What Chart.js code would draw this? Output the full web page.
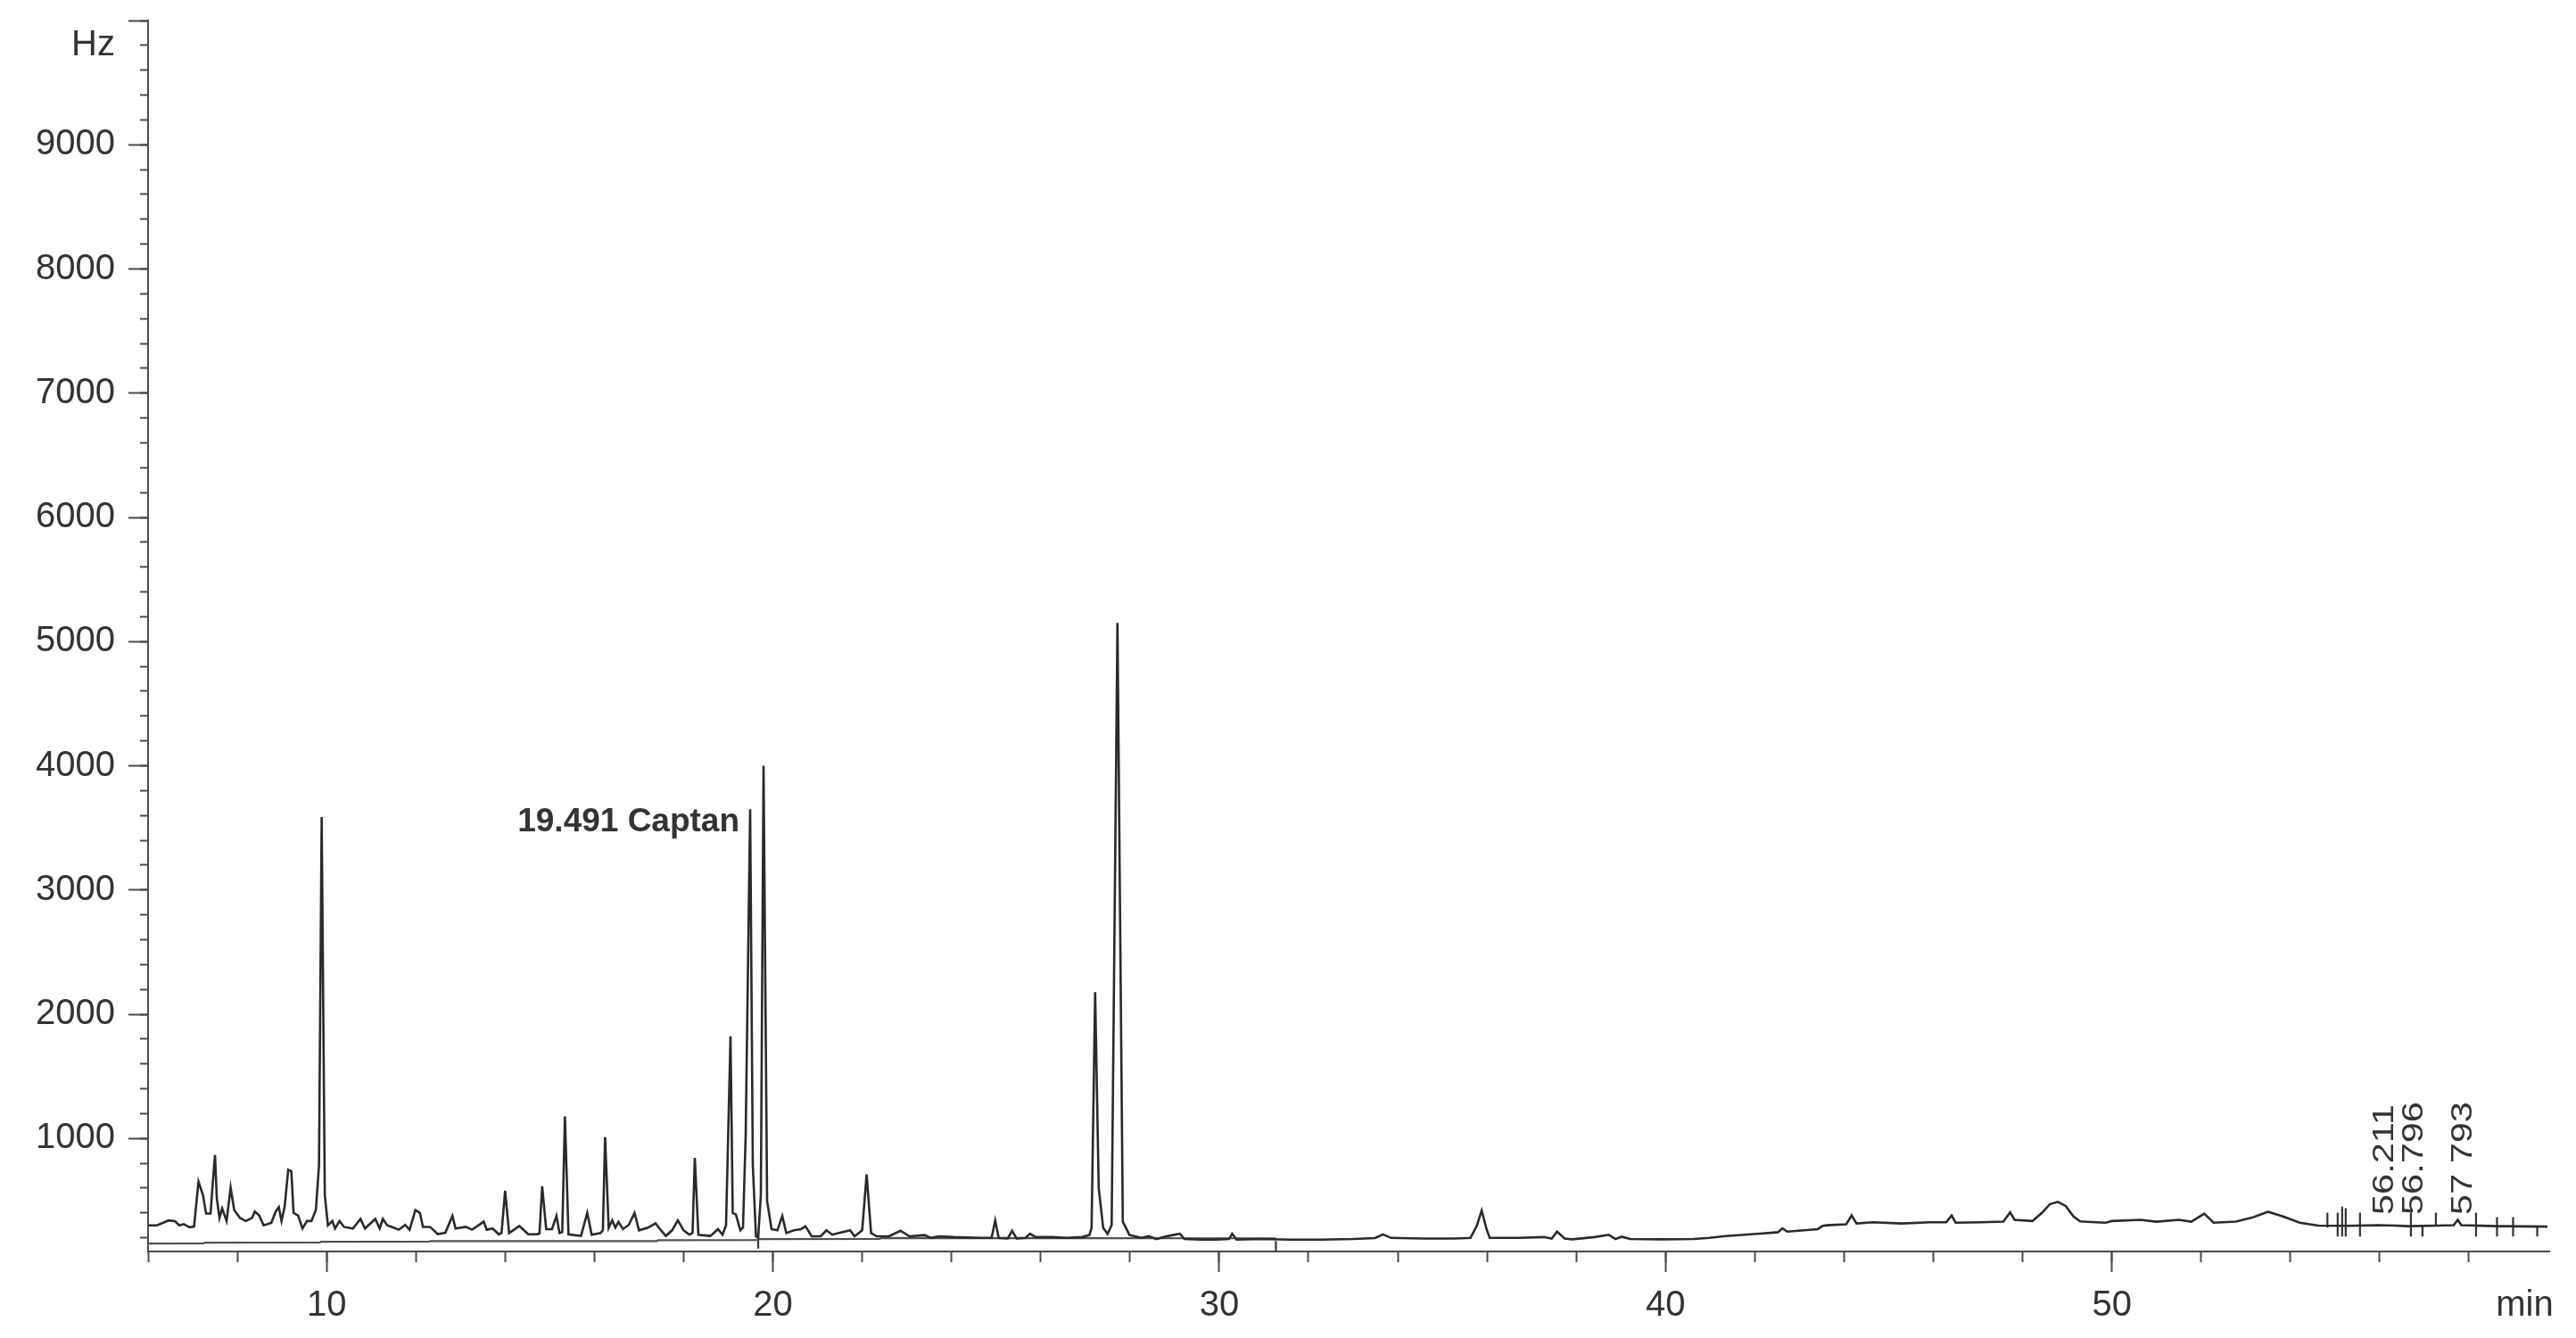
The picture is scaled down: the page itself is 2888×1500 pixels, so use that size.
<!DOCTYPE html>
<html>
<head>
<meta charset="utf-8">
<script src="https://cdn.jsdelivr.net/npm/chart.js"></script>
<style>
  body { margin: 0; background: #fff; }
  canvas { display: block; }
</style>
</head>
<body>
<canvas id="gc" width="2888" height="1500"></canvas>
<script>
'use strict'

// retention time (min) and detector signal (Hz)
const TIMES = [
  6.00, 6.20, 6.46, 6.60, 6.70, 6.80, 6.93, 7.03, 7.13, 7.23, 7.30, 7.40, 7.45, 7.50, 7.54, 7.60, 7.66, 7.76, 7.85, 7.93,
  8.06, 8.19, 8.33, 8.39, 8.49, 8.59, 8.76, 8.86, 8.93, 8.99, 9.06, 9.14, 9.21, 9.26, 9.36, 9.46, 9.56, 9.66, 9.76, 9.83,
  9.89, 9.96, 10.03, 10.13, 10.19, 10.29, 10.39, 10.59, 10.76, 10.86, 11.09, 11.19, 11.26, 11.36, 11.46, 11.62, 11.76, 11.86, 11.99, 12.09,
  12.16, 12.32, 12.49, 12.66, 12.82, 12.89, 13.12, 13.26, 13.52, 13.59, 13.72, 13.86, 13.92, 14.00, 14.09, 14.32, 14.52, 14.72, 14.77, 14.83,
  14.92, 15.05, 15.15, 15.22, 15.28, 15.34, 15.42, 15.70, 15.84, 15.94, 16.14, 16.19, 16.24, 16.32, 16.40, 16.47, 16.54, 16.64, 16.77, 16.90,
  17.00, 17.20, 17.37, 17.47, 17.60, 17.74, 17.87, 18.00, 18.13, 18.20, 18.25, 18.33, 18.60, 18.77, 18.87, 18.95, 19.05, 19.10, 19.17, 19.27,
  19.33, 19.39, 19.49, 19.55, 19.62, 19.67, 19.73, 19.79, 19.87, 19.97, 20.10, 20.21, 20.30, 20.47, 20.63, 20.73, 20.87, 21.07, 21.20, 21.33,
  21.46, 21.73, 21.83, 22.00, 22.10, 22.20, 22.33, 22.60, 22.86, 23.06, 23.40, 23.53, 23.73, 24.06, 24.66, 24.90, 24.98, 25.06, 25.26, 25.36,
  25.46, 25.66, 25.76, 25.89, 26.26, 26.59, 26.93, 27.09, 27.14, 27.22, 27.30, 27.40, 27.50, 27.59, 27.72, 27.84, 27.99, 28.26, 28.42, 28.59,
  28.79, 28.96, 29.12, 29.22, 29.59, 29.92, 30.22, 30.29, 30.39, 30.92, 31.59, 32.25, 33.00, 33.49, 33.67, 33.85, 34.56, 35.27, 35.63, 35.77,
  35.88, 35.99, 36.06, 36.70, 37.27, 37.45, 37.57, 37.74, 37.91, 38.41, 38.73, 38.88, 39.02, 39.20, 39.91, 40.63, 40.98, 41.34, 42.05, 42.52,
  42.62, 42.73, 43.41, 43.52, 43.62, 44.05, 44.17, 44.28, 44.65, 45.29, 45.93, 46.29, 46.41, 46.50, 47.07, 47.57, 47.72, 47.82, 48.22, 48.43,
  48.61, 48.79, 48.97, 49.14, 49.29, 49.64, 49.86, 50.00, 50.64, 51.00, 51.50, 51.78, 52.07, 52.28, 52.78, 53.14, 53.50, 53.85, 54.21, 54.63,
  55.30, 55.96, 56.36, 56.63, 57.30, 57.66, 57.75, 57.83, 58.63, 59.76
]
const SIGNAL = [
  300, 300, 340, 335, 300, 310, 285, 290, 652, 544, 395, 395, 640, 867, 520, 360, 436, 335, 604, 424,
  360, 335, 360, 412, 380, 300, 320, 412, 448, 335, 448, 747, 735, 400, 380, 275, 335, 335, 424, 783,
  3588, 544, 300, 335, 275, 335, 288, 275, 352, 275, 352, 275, 352, 300, 288, 265, 304, 265, 424, 400,
  288, 288, 230, 240, 376, 275, 288, 265, 330, 265, 275, 228, 240, 580, 238, 295, 228, 228, 235, 616,
  270, 270, 376, 238, 245, 1177, 228, 215, 400, 225, 238, 260, 1010, 280, 340, 282, 328, 270, 304, 400,
  260, 282, 316, 270, 215, 260, 340, 260, 225, 240, 843, 225, 215, 270, 225, 300, 1823, 400, 388, 260,
  282, 1025, 3650, 783, 212, 200, 544, 4000, 496, 270, 260, 376, 238, 260, 270, 292, 212, 212, 260, 225,
  238, 260, 212, 260, 711, 238, 212, 212, 257, 212, 222, 200, 212, 206, 200, 200, 340, 200, 195, 257,
  195, 200, 233, 206, 206, 200, 206, 222, 280, 2177, 600, 280, 230, 304, 5150, 330, 222, 200, 213, 190,
  210, 222, 233, 190, 185, 185, 190, 233, 185, 190, 185, 185, 190, 198, 227, 199, 194, 194, 199, 296,
  420, 270, 199, 199, 206, 194, 250, 194, 188, 206, 224, 190, 209, 190, 188, 190, 199, 214, 232, 245,
  276, 250, 270, 296, 301, 309, 380, 315, 325, 315, 325, 325, 380, 322, 325, 330, 405, 345, 335, 400,
  470, 490, 455, 372, 332, 325, 322, 335, 345, 330, 345, 330, 395, 322, 330, 362, 410, 370, 322, 298,
  296, 302, 298, 294, 298, 302, 345, 302, 294, 290
]

// integration baseline under the early part of the run
const BASE_TIMES = [6, 7.25, 7.27, 9.85, 9.87, 12.3, 12.32, 17.4, 17.42, 19.67, 19.69, 22.4, 22.42, 31.27]
const BASE_SIGNAL = [154, 156, 161, 162, 168, 169, 173, 174, 180, 182, 190, 192, 198, 196]

// peak event marks: time, lower and upper end (Hz)
const EVENT_TIMES = [19.67, 31.27, 54.83, 55.06, 55.16, 55.24, 55.56, 56.70, 56.96, 57.26, 58.16, 58.63, 58.99, 59.53]
const EVENT_LOW = [113, 91, 282, 211, 211, 211, 211, 211, 211, 306, 211, 211, 211, 211]
const EVENT_HIGH = [209, 175, 402, 402, 450, 438, 402, 402, 294, 402, 402, 366, 366, 294]

// labelled peaks
const PEAK_NAMES = ['56.211', '56.796', '57 793']
const PEAK_NAME_TIMES = [56.12, 56.78, 57.88]
const CAPTAN_NAME = '19.491 Captan'
const CAPTAN_TIME = 19.491

const X_TICKS = [10, 20, 30, 40, 50]
const Y_TICKS = [1000, 2000, 3000, 4000, 5000, 6000, 7000, 8000, 9000]

const X_MIN = 6, X_MAX = 59.8
const Y_MIN = 90, Y_MAX = 10000
const X_UNIT = 'min', Y_UNIT = 'Hz'
const X_UNIT_AT = 59.25, Y_UNIT_AT = 9800

const INK = '#333333'
const AXIS = '#4a4a4a'
const FONT = "'Liberation Sans', Arial, sans-serif"

const signalPoints = TIMES.map((t, i) => ({ x: t, y: SIGNAL[i] }))
const basePoints = BASE_TIMES.map((t, i) => ({ x: t, y: BASE_SIGNAL[i] }))
const eventPoints = []
EVENT_TIMES.forEach((t, i) => {
  eventPoints.push({ x: t, y: EVENT_LOW[i] }, { x: t, y: EVENT_HIGH[i] }, { x: t, y: null })
})

const peakLabels = {
  id: 'peakLabels',
  afterDatasetsDraw (chart) {
    const { ctx, scales: { x, y }, chartArea } = chart
    ctx.save()
    ctx.fillStyle = INK

    // Captan annotation, left of its peak
    let k = 0
    TIMES.forEach((t, i) => { if (Math.abs(t - CAPTAN_TIME) < Math.abs(TIMES[k] - CAPTAN_TIME)) k = i })
    ctx.font = 'bold 37px ' + FONT
    ctx.textAlign = 'right'
    ctx.textBaseline = 'middle'
    ctx.fillText(CAPTAN_NAME, x.getPixelForValue(CAPTAN_TIME) - 12, y.getPixelForValue(SIGNAL[k]) + 15)

    // retention times written upwards
    ctx.font = '34px ' + FONT
    ctx.textAlign = 'left'
    PEAK_NAMES.forEach((name, i) => {
      ctx.save()
      ctx.translate(x.getPixelForValue(PEAK_NAME_TIMES[i]), chartArea.bottom - 41)
      ctx.rotate(-Math.PI / 2)
      ctx.scale(1.22, 1)
      ctx.fillText(name, 0, 0)
      ctx.restore()
    })
    ctx.restore()
  }
}

const ctx = document.getElementById('gc')

const chromatogram = new Chart(ctx, {
  type: 'line',
  data: {
    datasets: [
      {
        label: 'signal',
        data: signalPoints,
        borderColor: '#2a2a2a',
        borderWidth: 2.6,
        pointRadius: 0,
        tension: 0
      },
      {
        label: 'baseline',
        data: basePoints,
        borderColor: '#505050',
        borderWidth: 2.2,
        pointRadius: 0,
        tension: 0
      },
      {
        label: 'events',
        data: eventPoints,
        borderColor: '#333333',
        borderWidth: 2.2,
        pointRadius: 0,
        spanGaps: false
      }
    ]
  },
  options: {
    animation: false,
    responsive: false,
    devicePixelRatio: 1,
    layout: { autoPadding: false, padding: { top: 23, right: 30, left: 0, bottom: 0 } },
    plugins: { legend: { display: false }, tooltip: { enabled: false } },
    scales: {
      x: {
        type: 'linear',
        position: 'bottom',
        min: X_MIN,
        max: X_MAX,
        afterBuildTicks: (s) => {
          s.ticks = X_TICKS.map(v => ({ value: v })).concat([{ value: X_UNIT_AT }])
        },
        afterFit: (s) => { s.height = 97; s.paddingLeft = 0; s.paddingRight = 0 },
        ticks: {
          callback: v => (v === X_UNIT_AT ? X_UNIT : String(v)),
          autoSkip: false,
          maxRotation: 0,
          padding: 14,
          color: INK,
          font: { family: FONT, size: 40 }
        },
        grid: {
          drawOnChartArea: false,
          tickLength: 23,
          tickWidth: 2,
          tickColor: c => (c.tick && c.tick.value === X_UNIT_AT ? 'rgba(0,0,0,0)' : AXIS)
        },
        border: { color: AXIS, width: 2 }
      },
      y: {
        type: 'linear',
        position: 'left',
        min: Y_MIN,
        max: Y_MAX,
        afterBuildTicks: (s) => {
          s.ticks = Y_TICKS.map(v => ({ value: v })).concat([{ value: Y_UNIT_AT }, { value: Y_MAX }])
        },
        afterFit: (s) => { s.width = 166; s.paddingTop = 0; s.paddingBottom = 0 },
        ticks: {
          callback: v => (v === Y_UNIT_AT ? Y_UNIT : (v === Y_MAX ? '' : String(v))),
          autoSkip: false,
          padding: 15,
          color: INK,
          font: { family: FONT, size: 40 }
        },
        grid: {
          drawOnChartArea: false,
          tickLength: 22,
          tickWidth: 2,
          tickColor: c => (c.tick && c.tick.value === Y_UNIT_AT ? 'rgba(0,0,0,0)' : AXIS)
        },
        border: { color: AXIS, width: 2 }
      },
      xMinor: {
        type: 'linear',
        axis: 'x',
        position: { y: Y_MIN },
        min: X_MIN,
        max: X_MAX,
        afterBuildTicks: (s) => {
          s.ticks = s.ticks.filter(t => t.value % 2 === 0)
        },
        ticks: { display: false, stepSize: 2, autoSkip: false },
        grid: { drawOnChartArea: false, tickLength: 12, tickWidth: 2, tickColor: AXIS },
        border: { display: false }
      },
      yMinor: {
        type: 'linear',
        axis: 'y',
        position: { x: X_MIN },
        min: Y_MIN,
        max: Y_MAX,
        afterBuildTicks: (s) => {
          s.ticks = s.ticks.filter(t => t.value % 200 === 0)
        },
        ticks: { display: false, stepSize: 200, autoSkip: false },
        grid: { drawOnChartArea: false, tickLength: 9, tickWidth: 2, tickColor: AXIS },
        border: { display: false }
      }
    }
  },
  plugins: [peakLabels]
})
</script>
</body>
</html>
